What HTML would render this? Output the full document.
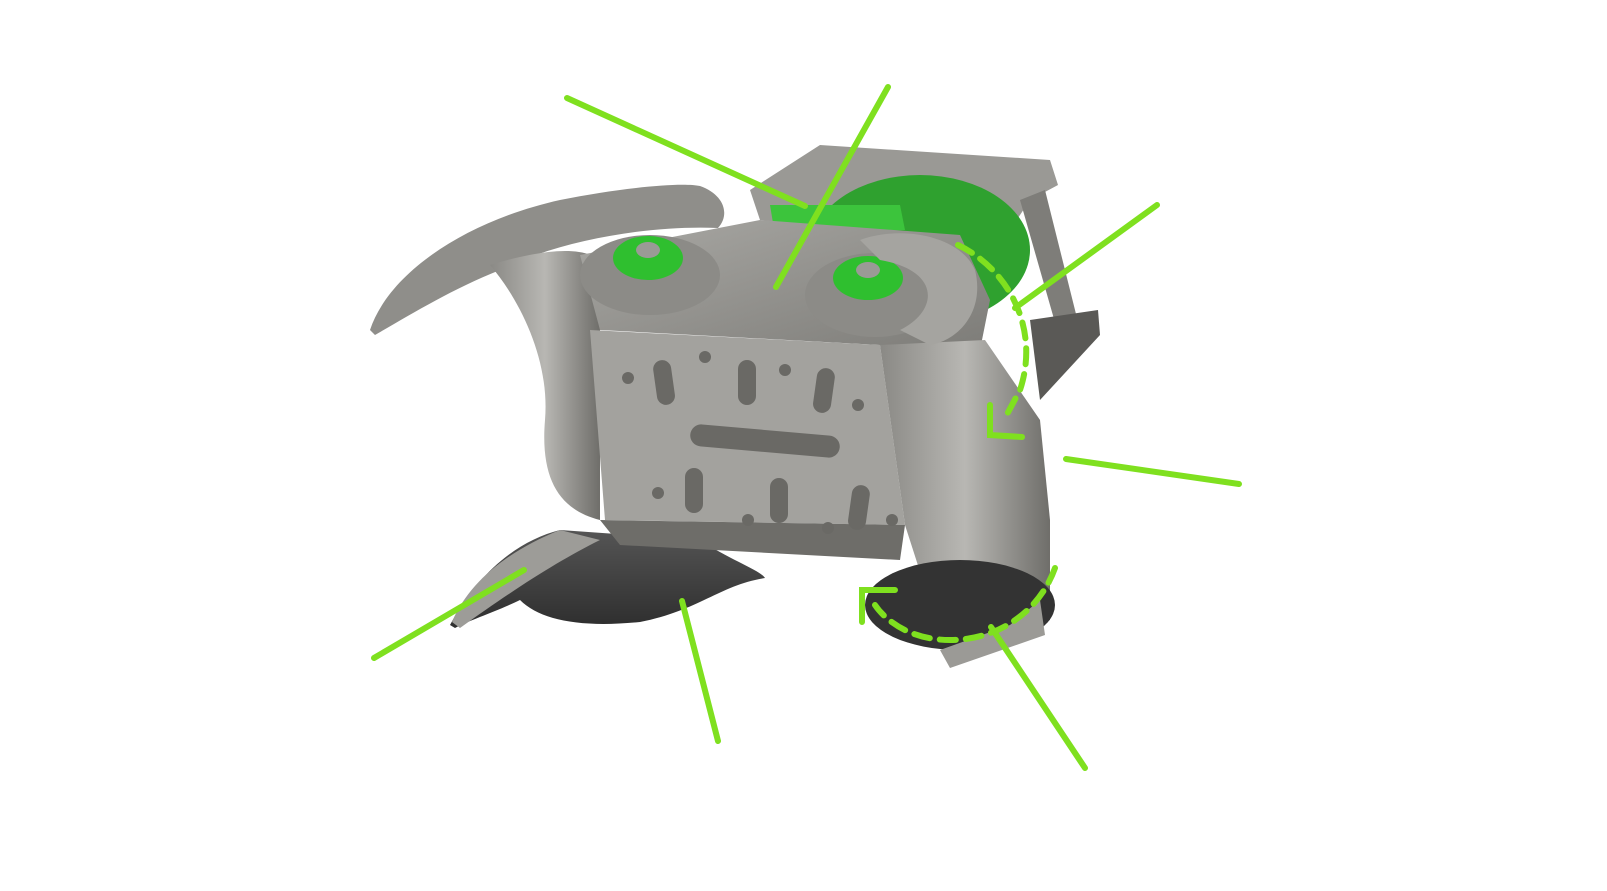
<!DOCTYPE html>
<html><head><meta charset="utf-8"><style>
html,body{margin:0;padding:0;background:#fff;width:1607px;height:891px;overflow:hidden}
</style></head><body>
<svg width="1607" height="891" viewBox="0 0 1607 891" xmlns="http://www.w3.org/2000/svg">
<defs>
<linearGradient id="g1" x1="0" y1="0" x2="1" y2="1"><stop offset="0" stop-color="#a9a8a4"/><stop offset="1" stop-color="#7d7c78"/></linearGradient>
<linearGradient id="g2" x1="0" y1="0" x2="1" y2="0"><stop offset="0" stop-color="#8a8985"/><stop offset=".5" stop-color="#b8b7b3"/><stop offset="1" stop-color="#6f6e6a"/></linearGradient>
<linearGradient id="g3" x1="0" y1="0" x2="0" y2="1"><stop offset="0" stop-color="#555"/><stop offset="1" stop-color="#2e2e2e"/></linearGradient>
</defs>
<!-- back bracket -->
<polygon points="750,190 820,145 1050,160 1058,185 1030,200 1000,245 760,220" fill="#9a9995"/>
<polygon points="1020,200 1045,190 1080,330 1060,340" fill="#7e7d79"/>
<polygon points="1030,320 1098,310 1100,335 1040,400" fill="#5a5956"/>
<!-- green disc behind -->
<ellipse cx="920" cy="250" rx="110" ry="75" fill="#2fa12f"/>
<polygon points="770,205 900,205 905,230 775,235" fill="#3cc43c"/>
<!-- left claw -->
<path d="M370,330 C390,270 470,220 560,200 C620,188 680,182 700,186 C725,195 730,215 718,228 C650,225 560,240 500,270 C450,290 410,315 375,335 Z" fill="#8f8e8a"/>
<path d="M490,265 C540,250 580,245 600,260 L600,520 C560,510 540,480 545,420 C550,360 520,300 490,265 Z" fill="url(#g2)"/>
<!-- bottom dark claw -->
<path d="M450,625 C480,570 520,540 560,530 L700,540 C730,560 760,570 765,578 C720,585 700,610 640,622 C580,628 540,620 520,600 C500,610 470,620 455,628 Z" fill="url(#g3)"/>
<path d="M452,622 C470,580 510,550 560,530 L600,540 C560,560 520,585 460,628 Z" fill="#9d9c98"/>
<!-- top body -->
<polygon points="580,255 760,220 960,235 990,300 980,350 880,345 600,330" fill="url(#g1)"/>
<!-- main plate -->
<polygon points="590,330 880,345 905,525 605,520" fill="#a3a29e"/>
<polygon points="880,345 985,340 1040,420 1050,520 1050,620 950,665 905,525" fill="url(#g2)"/>
<polygon points="600,520 905,525 900,560 620,545" fill="#6e6d69"/>
<!-- right lower dark -->
<ellipse cx="960" cy="605" rx="95" ry="45" fill="#333"/>
<polygon points="940,650 1010,625 1040,600 1045,635 950,668" fill="#9b9a96"/>
<!-- plate holes/slots -->
<g fill="#6a6965">
<rect x="655" y="360" width="18" height="45" rx="9" transform="rotate(-8 664 382)"/>
<rect x="738" y="360" width="18" height="45" rx="9"/>
<rect x="815" y="368" width="18" height="45" rx="9" transform="rotate(8 824 390)"/>
<rect x="690" y="430" width="150" height="22" rx="11" transform="rotate(5 765 441)"/>
<rect x="685" y="468" width="18" height="45" rx="9"/>
<rect x="770" y="478" width="18" height="45" rx="9"/>
<rect x="850" y="485" width="18" height="45" rx="9" transform="rotate(8 859 507)"/>
<circle cx="628" cy="378" r="6"/><circle cx="705" cy="357" r="6"/><circle cx="785" cy="370" r="6"/><circle cx="858" cy="405" r="6"/>
<circle cx="658" cy="493" r="6"/><circle cx="748" cy="520" r="6"/><circle cx="828" cy="528" r="6"/><circle cx="892" cy="520" r="6"/>
</g>
<!-- pins -->
<ellipse cx="650" cy="275" rx="70" ry="40" fill="#8c8b87"/>
<ellipse cx="648" cy="258" rx="35" ry="22" fill="#2fbf2f"/>
<ellipse cx="648" cy="250" rx="12" ry="8" fill="#9a9a96"/>
<ellipse cx="875" cy="295" rx="70" ry="42" fill="#8c8b87"/>
<ellipse cx="868" cy="278" rx="35" ry="22" fill="#2fbf2f"/>
<ellipse cx="868" cy="270" rx="12" ry="8" fill="#9a9a96"/>
<path d="M860,240 C900,225 960,235 975,270 C985,310 960,340 930,345 L900,330 C940,310 940,270 880,260 Z" fill="#a5a4a0"/>
<ellipse cx="600" cy="668" rx="0" ry="0"/>
<!-- green callout lines -->
<g stroke="#7fe01f" stroke-width="6" stroke-linecap="round" fill="none">
<line x1="567" y1="98" x2="805" y2="206"/>
<line x1="888" y1="87" x2="776" y2="287"/>
<line x1="1157" y1="205" x2="1015" y2="308"/>
<line x1="1066" y1="459" x2="1239" y2="484"/>
<line x1="374" y1="658" x2="524" y2="570"/>
<line x1="682" y1="601" x2="718" y2="741"/>
<line x1="991" y1="627" x2="1085" y2="768"/>
<path d="M958,245 C1010,270 1040,330 1020,390 L1005,418" stroke-dasharray="16 10"/>
<path d="M990,405 L990,435 L1022,437"/>
<path d="M1055,568 C1040,610 1000,640 950,640 C910,640 885,620 875,605" stroke-dasharray="16 10"/>
<path d="M862,622 L862,590 L895,590"/>
</g>
</svg>
</body></html>
